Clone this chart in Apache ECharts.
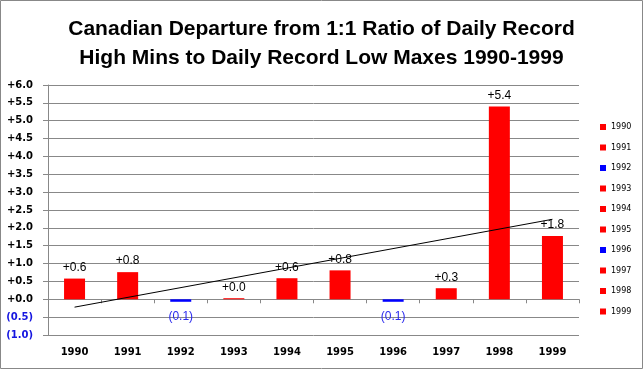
<!DOCTYPE html>
<html>
<head>
<meta charset="utf-8">
<script src="https://cdn.jsdelivr.net/npm/echarts@6/dist/echarts.min.js"></script>
<style>html,body{margin:0;padding:0;background:#fff}#c{width:643px;height:369px}</style>
</head>
<body>
<div id="c"></div>
<script>
const years = ['1990','1991','1992','1993','1994','1995','1996','1997','1998','1999'];
const values = [0.58, 0.76, -0.07, 0.03, 0.59, 0.81, -0.07, 0.31, 5.40, 1.77];
const yRange = [-1, 6, 0.5];
const trendEnds = [-0.22, 2.24];

const fmt = v => v >= 0 ? '+' + v.toFixed(1) : '(' + (-v).toFixed(1) + ')';

const barSeries = years.map((y, i) => {
  const neg = values[i] < 0;
  return {
    name: y, type: 'bar', stack: 's', barWidth: 21,
    data: values.map((v, j) => j === i ? v : '-'),
    itemStyle: { color: neg ? '#0000FF' : '#FF0000' },
    label: {
      show: true, position: neg ? 'bottom' : 'top', distance: neg ? 9 : 5,
      formatter: p => fmt(p.value),
      color: neg ? '#2a2aee' : '#000', fontSize: 12, fontFamily: 'Liberation Sans'
    }
  };
});

const trendData = years.map((_, i) => i === 0 ? trendEnds[0] : (i === years.length - 1 ? trendEnds[1] : null));

const chart = echarts.init(document.getElementById('c'));
chart.setOption({
  animation: false,
  title: {
    text: 'Canadian Departure from 1:1 Ratio of Daily Record\nHigh Mins to Daily Record Low Maxes 1990-1999',
    left: 'center', top: 10,
    textStyle: { fontSize: 21, fontWeight: 'bold', fontFamily: 'Liberation Sans Narrow, Liberation Sans', lineHeight: 29, color: '#000' }
  },
  graphic: [{ type: 'rect', shape: { x: 0.5, y: 0.5, width: 642, height: 368 }, style: { fill: 'none', stroke: '#888', lineWidth: 1 }, silent: true }],
  legend: {
    data: years, orient: 'vertical', left: 595, top: 118,
    itemWidth: 6, itemHeight: 6, itemGap: 12.5, icon: 'rect',
    textStyle: { fontSize: 8, fontFamily: 'DejaVu Sans', color: '#000' }
  },
  grid: { left: 48, right: 64, top: 85, bottom: 34 },
  xAxis: [{
    type: 'category', data: years,
    axisLine: { onZero: true, lineStyle: { color: '#888' } },
    axisTick: { show: true, length: 4, lineStyle: { color: '#888' } },
    axisLabel: { show: false }, splitLine: { show: false }
  }, {
    type: 'category', data: years, position: 'bottom',
    axisLine: { show: false, onZero: false }, axisTick: { show: false },
    axisLabel: { fontSize: 10, fontWeight: 'bold', fontFamily: 'DejaVu Sans', color: '#000', margin: 12 }
  }],
  yAxis: {
    type: 'value', min: yRange[0], max: yRange[1], interval: yRange[2],
    axisLine: { show: true, lineStyle: { color: '#888' } },
    axisTick: { show: true, length: 5, lineStyle: { color: '#888' } },
    splitLine: { lineStyle: { color: '#888', width: 1 } },
    axisLabel: {
      formatter: v => fmt(v), margin: 15,
      fontSize: 10, fontWeight: 'bold', fontFamily: 'DejaVu Sans',
      color: v => v < 0 ? '#1515e0' : '#000'
    }
  },
  series: barSeries.concat([{
    name: 'trend', type: 'line', data: trendData, connectNulls: true,
    symbol: 'none', lineStyle: { color: '#000', width: 1 }, z: 5
  }])
});
</script>
</body>
</html>
